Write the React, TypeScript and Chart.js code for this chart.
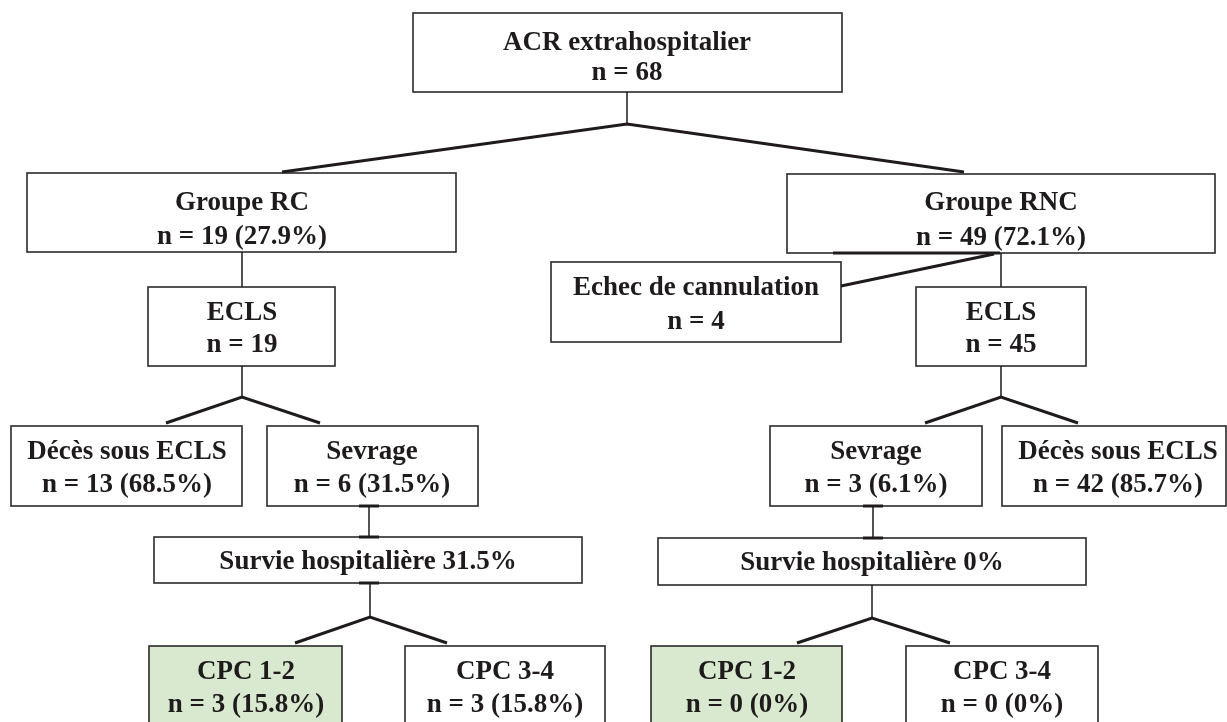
import React, { useEffect, useRef } from "react";
import Chart from "chart.js/auto";

// ---- Data: node texts ----
const nodeTitles: string[] = [
  "ACR extrahospitalier",
  "Groupe RC",
  "Groupe RNC",
  "ECLS",
  "Echec de cannulation",
  "ECLS",
  "Décès sous ECLS",
  "Sevrage",
  "Sevrage",
  "Décès sous ECLS",
  "Survie hospitalière 31.5%",
  "Survie hospitalière 0%",
  "CPC 1-2",
  "CPC 3-4",
  "CPC 1-2",
  "CPC 3-4",
];
const nodeCounts: string[] = [
  "n = 68",
  "n = 19 (27.9%)",
  "n = 49 (72.1%)",
  "n = 19",
  "n = 4",
  "n = 45",
  "n = 13 (68.5%)",
  "n = 6 (31.5%)",
  "n = 3 (6.1%)",
  "n = 42 (85.7%)",
  "",
  "",
  "n = 3 (15.8%)",
  "n = 3 (15.8%)",
  "n = 0 (0%)",
  "n = 0 (0%)",
];
const highlighted: boolean[] = [
  false, false, false, false, false, false, false, false,
  false, false, false, false, true, false, true, false,
];

// ---- Layout (chart units) : [x1, y1, x2, y2, textY1, textY2, textX] ----
const layout: number[][] = [
  [413, 13, 842, 92, 43, 73, 627],
  [27, 173, 456, 252, 203, 237, 242],
  [787, 174, 1215, 253, 203, 238, 1001],
  [148, 287, 335, 366, 313, 345, 242],
  [551, 262, 841, 342, 288, 322, 696],
  [916, 287, 1086, 366, 313, 345, 1001],
  [11, 426, 242, 506, 452, 485, 127],
  [267, 426, 478, 506, 452, 485, 372],
  [770, 426, 982, 506, 452, 485, 876],
  [1002, 426, 1226, 506, 452, 485, 1118],
  [154, 537, 582, 583, 562, 0, 368],
  [658, 538, 1086, 585, 563, 0, 872],
  [149, 646, 342, 740, 672, 705, 246],
  [405, 646, 605, 740, 672, 705, 505],
  [651, 646, 842, 740, 672, 705, 747],
  [906, 646, 1098, 740, 672, 705, 1002],
];

// connectors: [points..., width]
const connectors: { pts: number[][]; w: number }[] = [
  { pts: [[627, 92], [627, 124]], w: 1.5 },
  { pts: [[282, 172], [627, 124], [964, 172]], w: 3 },
  { pts: [[242, 252], [242, 287]], w: 1.5 },
  { pts: [[833, 253], [1000, 253]], w: 3 },
  { pts: [[994, 254], [841, 286]], w: 3 },
  { pts: [[1001, 253], [1001, 287]], w: 1.5 },
  { pts: [[242, 366], [242, 397]], w: 1.5 },
  { pts: [[166, 423], [242, 397], [320, 423]], w: 3 },
  { pts: [[1001, 366], [1001, 397]], w: 1.5 },
  { pts: [[925, 423], [1001, 397], [1078, 423]], w: 3 },
  { pts: [[369, 506], [369, 537]], w: 1.5 },
  { pts: [[359, 506], [379, 506]], w: 3 },
  { pts: [[359, 537], [379, 537]], w: 3 },
  { pts: [[359, 583], [379, 583]], w: 3 },
  { pts: [[370, 583], [370, 617]], w: 1.5 },
  { pts: [[295, 643], [370, 617], [447, 643]], w: 3 },
  { pts: [[873, 506], [873, 538]], w: 1.5 },
  { pts: [[863, 506], [883, 506]], w: 3 },
  { pts: [[863, 538], [883, 538]], w: 3 },
  { pts: [[872, 585], [872, 618]], w: 1.5 },
  { pts: [[797, 643], [872, 618], [950, 643]], w: 3 },
];

const INK = "#1f1b1c";
const GREEN = "#d8e9d0";
const FONT = "bold 27px 'Liberation Serif', 'Times New Roman', serif";

const boxesPlugin = {
  id: "flowBoxes",
  beforeDatasetsDraw(chart: any) {
    const ctx = chart.ctx;
    const xs = chart.scales.x;
    const ys = chart.scales.y;
    ctx.save();
    layout.forEach((b, i) => {
      const x1 = xs.getPixelForValue(b[0]);
      const y1 = ys.getPixelForValue(b[1]);
      const x2 = xs.getPixelForValue(b[2]);
      const y2 = ys.getPixelForValue(b[3]);
      ctx.fillStyle = highlighted[i] ? GREEN : "#ffffff";
      ctx.fillRect(x1, y1, x2 - x1, y2 - y1);
      ctx.lineWidth = 1.6;
      ctx.strokeStyle = "#2a2a2a";
      ctx.strokeRect(x1, y1, x2 - x1, y2 - y1);
      ctx.fillStyle = INK;
      ctx.font = FONT;
      ctx.textAlign = "center";
      ctx.textBaseline = "middle";
      const tx = xs.getPixelForValue(b[6]);
      ctx.fillText(nodeTitles[i], tx, ys.getPixelForValue(b[4]));
      if (nodeCounts[i]) {
        ctx.fillText(nodeCounts[i], tx, ys.getPixelForValue(b[5]));
      }
    });
    ctx.restore();
  },
};

export default function App() {
  const ref = useRef<HTMLCanvasElement | null>(null);
  useEffect(() => {
    document.body.style.margin = "0";
    if (!ref.current) return;
    const chart = new Chart(ref.current, {
      type: "scatter",
      data: {
        datasets: connectors.map((c) => ({
          data: c.pts.map((p) => ({ x: p[0], y: p[1] })),
          showLine: true,
          borderColor: INK,
          borderWidth: c.w,
          pointRadius: 0,
          pointHoverRadius: 0,
          fill: false,
          tension: 0,
          clip: false as any,
        })),
      },
      options: {
        responsive: false,
        animation: false,
        maintainAspectRatio: false,
        layout: { padding: 0 },
        events: [],
        plugins: {
          legend: { display: false },
          tooltip: { enabled: false },
          title: { display: false },
        },
        scales: {
          x: { type: "linear", min: 0, max: 1227, display: false },
          y: { type: "linear", min: 0, max: 722, reverse: true, display: false },
        },
      },
      plugins: [boxesPlugin],
    });
    return () => chart.destroy();
  }, []);
  return (
    <div style={{ width: 1227, height: 722, background: "#fff" }}>
      <canvas ref={ref} width={1227} height={722} style={{ display: "block" }} />
    </div>
  );
}
